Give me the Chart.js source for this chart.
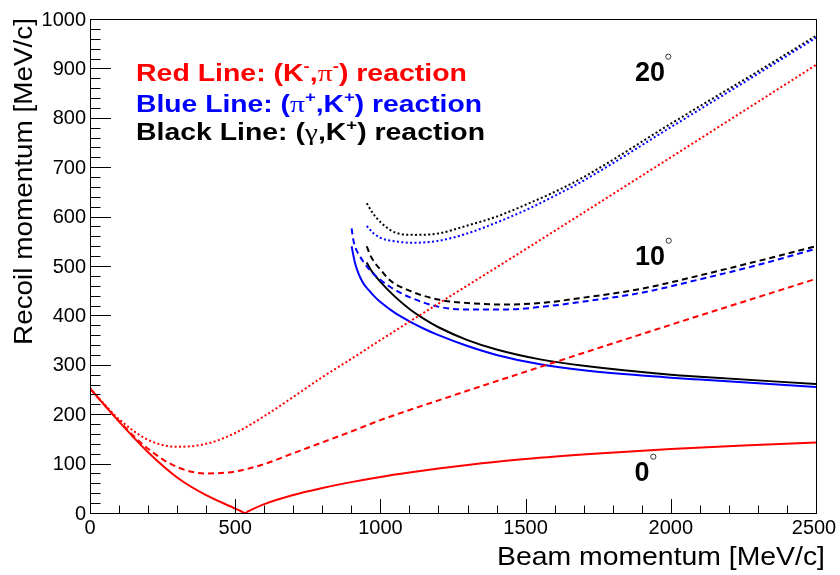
<!DOCTYPE html>
<html>
<head>
<meta charset="utf-8">
<script src="https://cdn.jsdelivr.net/npm/chart.js@4.4.1/dist/chart.umd.min.js"></script>
<style>
  html,body{margin:0;padding:0;background:#fff;}
  canvas{display:block;}
</style>
</head>
<body>
<canvas id="kin" width="840" height="575"></canvas>
<script>
// -------- axis ticks --------
const xTicks = [0,500,1000,1500,2000,2500];
const yTicks = [0,100,200,300,400,500,600,700,800,900,1000];

// -------- (K-,pi-) red --------
const red0X  = [0,100,200,300,400,500,520,533,545,600,700,800,900,1000,1100,1200,1350,1500,1750,2000,2250,2500];
const red0Y  = [252,185,123,72,36,9,3.5,0,3.5,18,36.5,50.5,62.5,73,82,90,100.5,109.5,120.5,129.5,136.5,142.5];
const redAX  = [0,100,200,300,400,500,600,700,800,900,1000,1200,1500,2000,2500];
const red10Y = [252,186,130,93,80,84,99,121,143,165,188,228,286,381,474];
const red20Y = [252,190,148,134,140,162,196,235,275,312,350,424,534,720,907];

// -------- (pi+,K+) blue --------
const blue0X  = [901,905,913,925,941,960,980,1000,1050,1100,1150,1200,1300,1400,1550,1700,2000,2100,2500];
const blue0Y  = [540,527,505,484,465,451,438,427,405,388,373,360,338,320,301,289,274,270,255];
const blue10X = [901,906,915,930,960,1000,1033,1100,1205,1300,1435,1550,1700,1900,2100,2300,2500];
const blue10Y = [576,555,536,519,494,472,458,437,417,412,412,417,428,446,473,502,535];
const blue20X = [953,975,1000,1050,1110,1200,1300,1400,1500,1600,1700,2000,2300,2500];
const blue20Y = [581,567,557,550,547,551,566,588,613,642,673,781,889,962];

// -------- (gamma,K+) black --------
const black0X  = [953,965,980,1000,1050,1100,1150,1200,1300,1400,1550,1700,2000,2100,2500];
const black0Y  = [507,494,482,468,438,413,393,376,350,331,311,298,280,276,261];
const black10X = [953,965,985,1000,1033,1100,1200,1300,1435,1550,1700,1900,2100,2300,2500];
const black10Y = [540,522,503,493,471,450,432,425,422,425,436,454,481,510,540];
const black20X = [953,975,1000,1050,1120,1200,1300,1400,1500,1600,1700,2000,2300,2500];
const black20Y = [627,606,589,568,563,566,582,600,624,650,680,788,894,966];

const DASH = [6,4];
const DOT  = [2,2.4];

function pts(xs, ys){ return xs.map((x,i)=>({x:x, y:ys[i]})); }
function curve(xs, ys, color, dash){
    return {
        data: pts(xs, ys),
        showLine: true,
        borderColor: color,
        borderWidth: 2,
        borderDash: dash || [],
        pointRadius: 0,
        fill: false,
        cubicInterpolationMode: 'monotone'
    };
}

// draw a row of text pieces (for superscripts / greek), optionally squeezed to a width
function drawRuns(ctx, runs, x, y, width, color){
    let total = 0;
    runs.forEach(r=>{ ctx.font = r.f; total += ctx.measureText(r.t).width; });
    ctx.save();
    ctx.translate(x, y);
    if(width) ctx.scale(width/total, 1);
    ctx.fillStyle = color;
    ctx.textAlign = 'left';
    ctx.textBaseline = 'alphabetic';
    let cx = 0;
    runs.forEach(r=>{
        ctx.font = r.f;
        ctx.fillText(r.t, cx, r.dy || 0);
        cx += ctx.measureText(r.t).width;
    });
    ctx.restore();
}

const B  = 'bold 23px "Liberation Sans", Arial, sans-serif';
const S  = 'bold 15px "Liberation Sans", Arial, sans-serif';
const G  = '24px "Liberation Serif", serif';
const TITLE = '26px "Liberation Sans", Arial, sans-serif';
const ANG = 'bold 27px "Liberation Sans", Arial, sans-serif';

const axesPlugin = {
    id: 'rootAxes',
    afterDraw(chart){
        const ctx = chart.ctx, xs = chart.scales.x, ys = chart.scales.y, a = chart.chartArea;
        ctx.save();
        ctx.strokeStyle = '#000';
        ctx.lineWidth = 1;
        ctx.strokeRect(a.left+0.5, a.top+0.5, a.right-a.left, a.bottom-a.top);

        // ticks
        ctx.beginPath();
        for(let v=0; v<=2500; v+=100){
            const px = Math.round(xs.getPixelForValue(v))+0.5;
            const len = v%500===0 ? 14 : 7.5;
            ctx.moveTo(px, a.bottom); ctx.lineTo(px, a.bottom-len);
        }
        for(let v=0; v<=1000; v+=20){
            const py = Math.round(ys.getPixelForValue(v))+0.5;
            const len = v%100===0 ? 21 : 10.5;
            ctx.moveTo(a.left, py); ctx.lineTo(a.left+len, py);
        }
        ctx.stroke();

        // tick labels
        ctx.fillStyle = '#000';
        ctx.font = '20px "Liberation Sans", Arial, sans-serif';
        ctx.textAlign = 'center';
        ctx.textBaseline = 'top';
        xTicks.forEach(v=>{
            let px = xs.getPixelForValue(v);
            if(v===2500) px -= 2;
            ctx.fillText(String(v), px, a.bottom+5);
        });
        ctx.textAlign = 'right';
        ctx.textBaseline = 'middle';
        yTicks.forEach(v=>{
            ctx.fillText(String(v), a.left-4, ys.getPixelForValue(v)+1);
        });

        // axis titles
        drawRuns(ctx, [{t:'Beam momentum [MeV/c]', f:TITLE}], 497, 565, 328, '#000');
        ctx.save();
        ctx.translate(31.5, 345);
        ctx.rotate(-Math.PI/2);
        drawRuns(ctx, [{t:'Recoil momentum [MeV/c]', f:TITLE}], 0, 0, 327, '#000');
        ctx.restore();

        // legend text
        drawRuns(ctx, [
            {t:'Red Line: (K', f:B}, {t:'-', f:S, dy:-10}, {t:',', f:B},
            {t:'π', f:G}, {t:'-', f:S, dy:-10}, {t:') reaction', f:B}
        ], 136, 80.5, 331, '#ff0000');
        drawRuns(ctx, [
            {t:'Blue Line: (', f:B}, {t:'π', f:G}, {t:'+', f:S, dy:-10},
            {t:',K', f:B}, {t:'+', f:S, dy:-10}, {t:') reaction', f:B}
        ], 136, 111.5, 346, '#0000ff');
        drawRuns(ctx, [
            {t:'Black Line: (', f:B}, {t:'γ', f:G}, {t:',K', f:B},
            {t:'+', f:S, dy:-10}, {t:') reaction', f:B}
        ], 136, 140, 349, '#000');

        // angle labels
        const angles = [['20', 635, 81, 668.3, 56.7], ['10', 635, 265, 668.7, 240.7], ['0', 634.5, 480.7, 653.3, 456.7]];
        angles.forEach(an=>{
            drawRuns(ctx, [{t:an[0], f:ANG}], an[1], an[2], null, '#000');
            ctx.beginPath();
            ctx.strokeStyle = '#333';
            ctx.lineWidth = 1;
            ctx.arc(an[3], an[4], 2.6, 0, Math.PI*2);
            ctx.stroke();
        });
        ctx.restore();
    }
};

new Chart(document.getElementById('kin'), {
    type: 'scatter',
    data: {
        datasets: [
            curve(red0X, red0Y, '#ff0000'),
            curve(redAX, red10Y, '#ff0000', DASH),
            curve(redAX, red20Y, '#ff0000', DOT),
            curve(blue0X, blue0Y, '#0000ff'),
            curve(blue10X, blue10Y, '#0000ff', DASH),
            curve(blue20X, blue20Y, '#0000ff', DOT),
            curve(black0X, black0Y, '#000000'),
            curve(black10X, black10Y, '#000000', DASH),
            curve(black20X, black20Y, '#000000', DOT)
        ]
    },
    options: {
        responsive: false,
        animation: false,
        devicePixelRatio: 1,
        layout: {padding: {left: 90, right: 24, top: 19, bottom: 62}},
        scales: {
            x: {type: 'linear', min: 0, max: 2500, display: false},
            y: {type: 'linear', min: 0, max: 1000, display: false}
        },
        plugins: {legend: {display: false}, tooltip: {enabled: false}}
    },
    plugins: [axesPlugin]
});
</script>
</body>
</html>
